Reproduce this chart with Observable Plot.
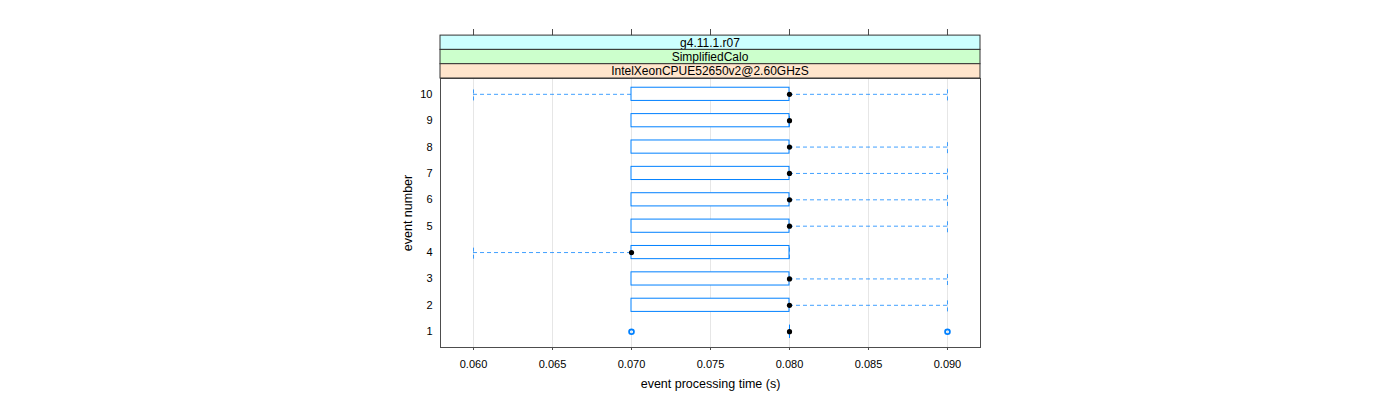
<!DOCTYPE html>
<html>
<head>
<meta charset="utf-8">
<script src="https://cdn.jsdelivr.net/npm/d3@7"></script>
<script src="https://cdn.jsdelivr.net/npm/@observablehq/plot@0.6"></script>
<style>
  html, body { margin: 0; padding: 0; background: #fff; }
  #chart { width: 1400px; height: 400px; }
  svg { font-family: "Liberation Sans", Arial, sans-serif; }
</style>
</head>
<body>
<div id="chart"></div>
<script>
// ---- data ----
const events      = [1, 2, 3, 4, 5, 6, 7, 8, 9, 10];
const whiskerLow  = [0.080, 0.070, 0.070, 0.060, 0.070, 0.070, 0.070, 0.070, 0.070, 0.060];
const q1          = [0.080, 0.070, 0.070, 0.070, 0.070, 0.070, 0.070, 0.070, 0.070, 0.070];
const medians     = [0.080, 0.080, 0.080, 0.070, 0.080, 0.080, 0.080, 0.080, 0.080, 0.080];
const q3          = [0.080, 0.080, 0.080, 0.080, 0.080, 0.080, 0.080, 0.080, 0.080, 0.080];
const whiskerHigh = [0.080, 0.090, 0.090, 0.080, 0.090, 0.090, 0.090, 0.090, 0.080, 0.090];
const outlierEvent = [1, 1];
const outlierValue = [0.070, 0.090];
const xTicks = [0.060, 0.065, 0.070, 0.075, 0.080, 0.085, 0.090];
const strips = ["g4.11.1.r07", "SimplifiedCalo", "IntelXeonCPUE52650v2@2.60GHzS"];
const stripColors = ["#ccffff", "#ccffcc", "#ffe5cc"];

const rows = events.map((e, i) => ({
  event: e, lo: whiskerLow[i], q1: q1[i], med: medians[i], q3: q3[i], hi: whiskerHigh[i]
}));
const outliers = outlierEvent.map((e, i) => ({event: e, value: outlierValue[i]}));
const half = 0.25;

const W = 1400, H = 400, mL = 440, mR = 420, mT = 78, mB = 53;
const blue = "#0080ff";

const plot = Plot.plot({
  width: W, height: H,
  marginLeft: mL, marginRight: mR, marginTop: mT, marginBottom: mB,
  style: {fontFamily: "'Liberation Sans', Arial, sans-serif", fontSize: "11px", color: "#000", background: "#fff"},
  x: {domain: [0.05791, 0.09209]},
  y: {domain: [0.4, 10.6]},
  marks: [
    Plot.gridX(xTicks, {stroke: "#e6e6e6", strokeOpacity: 1}),
    // whiskers
    Plot.ruleY(rows.filter(d => d.lo < d.q1), {y: "event", x1: "lo", x2: "q1", stroke: blue, strokeOpacity: 0.75, strokeDasharray: "4,3"}),
    Plot.ruleY(rows.filter(d => d.hi > d.q3), {y: "event", x1: "q3", x2: "hi", stroke: blue, strokeOpacity: 0.75, strokeDasharray: "4,3"}),
    // whisker caps
    Plot.ruleX(rows, {x: "lo", y1: d => d.event - half, y2: d => d.event + half, stroke: blue, strokeOpacity: 0.75, strokeDasharray: "4,3"}),
    Plot.ruleX(rows, {x: "hi", y1: d => d.event - half, y2: d => d.event + half, stroke: blue, strokeOpacity: 0.75, strokeDasharray: "4,3"}),
    // boxes
    Plot.rect(rows, {x1: "q1", x2: "q3", y1: d => d.event - half, y2: d => d.event + half, fill: "white", stroke: blue, strokeWidth: 1}),
    Plot.ruleX(rows.filter(d => d.q1 === d.q3), {x: "q1", y1: d => d.event - half, y2: d => d.event + half, stroke: blue}),
    // medians
    Plot.dot(rows, {x: "med", y: "event", r: 2.6, fill: "black", stroke: null}),
    // outliers
    Plot.dot(outliers, {x: "value", y: "event", r: 2.4, fill: "none", stroke: blue, strokeWidth: 1.8}),
    Plot.frame({stroke: "#4d4d4d", strokeWidth: 1}),
    Plot.axisX({ticks: xTicks, tickFormat: d3.format(".3f"), tickSize: 3, tickPadding: 10, stroke: "#4d4d4d",
      label: null, fontSize: 11}),
    Plot.axisX({ticks: [], label: "event processing time (s)", labelAnchor: "center", labelArrow: "none", labelOffset: 40, fontSize: 12.5}),
    Plot.axisX({anchor: "top", ticks: xTicks, tickFormat: () => "", tickSize: 7, dy: -43, label: null, stroke: "#4d4d4d"}),
    Plot.axisY({ticks: events, tickFormat: d3.format("d"), tickSize: 0, tickPadding: 8, label: null, fontSize: 11}),
    Plot.axisY({ticks: [], label: "event number", labelAnchor: "center", labelArrow: "none", labelOffset: 37, fontSize: 12.5})
  ]
});

document.getElementById("chart").appendChild(plot);

// strips (panel headers)
const svg = d3.select(plot.tagName.toLowerCase() === "svg" ? plot : plot.querySelector("svg"));
const stripH = 14.3;
const stripTop = mT - strips.length * stripH;
const g = svg.append("g");
strips.forEach((s, i) => {
  const y = stripTop + i * stripH;
  g.append("rect").attr("x", mL).attr("y", y).attr("width", W - mL - mR).attr("height", stripH)
    .attr("fill", stripColors[i]).attr("stroke", "#333").attr("stroke-width", 1);
  g.append("text").attr("x", mL + (W - mL - mR) / 2).attr("y", y + stripH / 2 + 0.5)
    .attr("text-anchor", "middle").attr("dominant-baseline", "central")
    .attr("font-size", "12px").attr("fill", "#000").text(s);
});
</script>
</body>
</html>
